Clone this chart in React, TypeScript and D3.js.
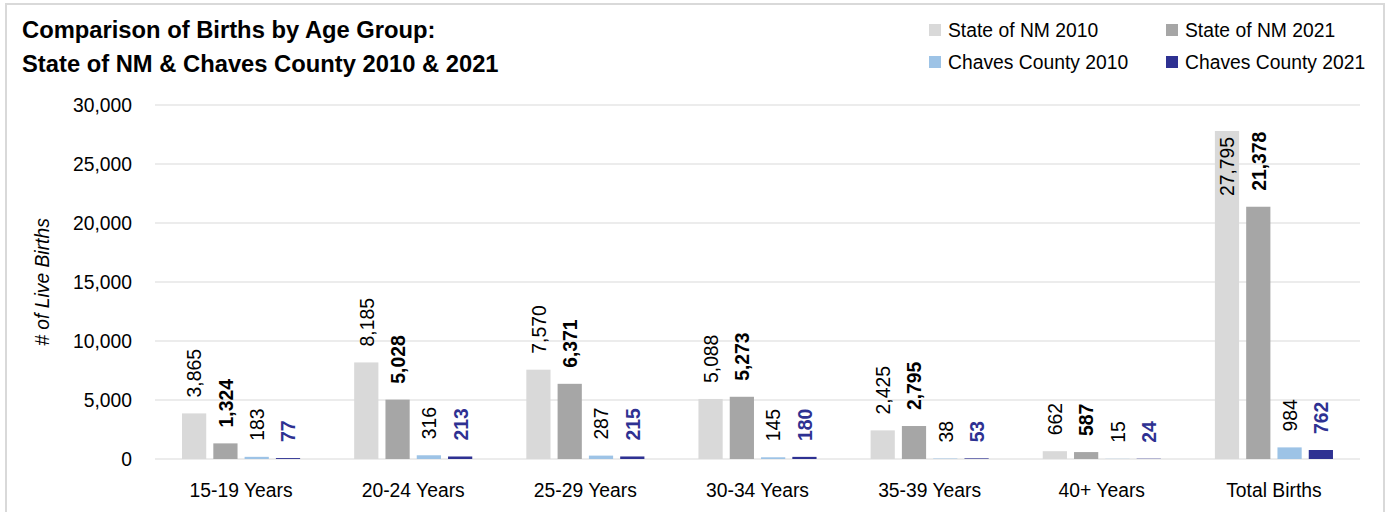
import React from "react";
import * as d3 from "d3";

const categories = ["15-19 Years", "20-24 Years", "25-29 Years", "30-34 Years", "35-39 Years", "40+ Years", "Total Births"];
const seriesNames = ["State of NM 2010", "State of NM 2021", "Chaves County 2010", "Chaves County 2021"];
const nm2010 = [3865, 8185, 7570, 5088, 2425, 662, 27795];
const nm2021 = [1324, 5028, 6371, 5273, 2795, 587, 21378];
const chaves2010 = [183, 316, 287, 145, 38, 15, 984];
const chaves2021 = [77, 213, 215, 180, 53, 24, 762];
const yTicks = [0, 5000, 10000, 15000, 20000, 25000, 30000];

const seriesValues = [nm2010, nm2021, chaves2010, chaves2021];
const colors = ["#D9D9D9", "#A6A6A6", "#9DC3E6", "#2E3192"];
const labelColors = ["#000000", "#000000", "#000000", "#2E3192"];
const labelWeights = ["normal", "bold", "normal", "bold"];

const FONT = "'Liberation Sans', Arial, sans-serif";
const SX = 0.92;
const FS = 21;

type TProps = {
  x: number;
  y: number;
  rotate?: number;
  anchor?: "start" | "middle" | "end";
  size?: number;
  weight?: string;
  italic?: boolean;
  fill?: string;
  sx?: number;
  children: React.ReactNode;
};

function T({ x, y, rotate = 0, anchor = "start", size = FS, weight = "normal", italic = false, fill = "#000", sx = SX, children }: TProps) {
  return (
    <text
      transform={`translate(${x},${y}) rotate(${rotate}) scale(${sx},1)`}
      textAnchor={anchor}
      dy="0.35em"
      fontSize={size}
      fontWeight={weight}
      fontStyle={italic ? "italic" : "normal"}
      fill={fill}
    >
      {children}
    </text>
  );
}

export default function App() {
  const W = 1387, H = 512;
  const left = 155, right = 1360, top = 105, bottom = 459;
  const y = d3.scaleLinear().domain([0, 30000]).range([bottom, top]);
  const x0 = d3.scaleBand<string>().domain(categories).range([left, right]).paddingInner(0.314).paddingOuter(0.157);
  const x1 = d3.scaleBand<string>().domain(seriesNames).range([0, x0.bandwidth()]).paddingInner(0.226).paddingOuter(0);
  const fmt = d3.format(",");

  return (
    <svg width={W} height={H} style={{ position: "absolute", left: 0, top: 0, fontFamily: FONT }}>
      <rect x={0} y={0} width={W} height={H} fill="#ffffff" />
      <rect x={6} y={4} width={1378} height={510} fill="#ffffff" stroke="#D9D9D9" strokeWidth={2} />
      <T x={22} y={30} size={24} weight="bold" sx={0.99}>Comparison of Births by Age Group:</T>
      <T x={22} y={64} size={24} weight="bold" sx={0.99}>State of NM &amp; Chaves County 2010 &amp; 2021</T>

      {seriesNames.map((s, i) => {
        const col = i % 2, row = Math.floor(i / 2);
        const lx = col === 0 ? 929 : 1166;
        const ly = row === 0 ? 30 : 62;
        return (
          <g key={s}>
            <rect x={lx} y={ly - 6} width={12} height={12} fill={colors[i]} />
            <T x={lx + 19} y={ly}>{s}</T>
          </g>
        );
      })}

      {yTicks.map((t) => (
        <g key={t}>
          <line x1={left} x2={right} y1={y(t)} y2={y(t)} stroke="#D9D9D9" strokeWidth={1} />
          <T x={132} y={y(t)} anchor="end">{fmt(t)}</T>
        </g>
      ))}

      <T x={42} y={(top + bottom) / 2} rotate={-90} anchor="middle" italic>
        # of Live Births
      </T>

      {categories.map((c, ci) => (
        <g key={c} transform={`translate(${x0(c)},0)`}>
          {seriesNames.map((s, si) => {
            const v = seriesValues[si][ci];
            const bx = x1(s)!;
            const bw = x1.bandwidth();
            const by = y(v);
            const inside = v > 25000;
            const cx = bx + bw / 2;
            const ty = inside ? by + 6 : by - 16;
            return (
              <g key={s}>
                <rect x={bx} y={by} width={bw} height={bottom - by} fill={colors[si]} />
                <T x={cx} y={ty} rotate={-90} anchor={inside ? "end" : "start"} weight={labelWeights[si]} fill={labelColors[si]}>
                  {fmt(v)}
                </T>
              </g>
            );
          })}
          <T x={x0.bandwidth() / 2} y={490} anchor="middle">{c}</T>
        </g>
      ))}
    </svg>
  );
}
